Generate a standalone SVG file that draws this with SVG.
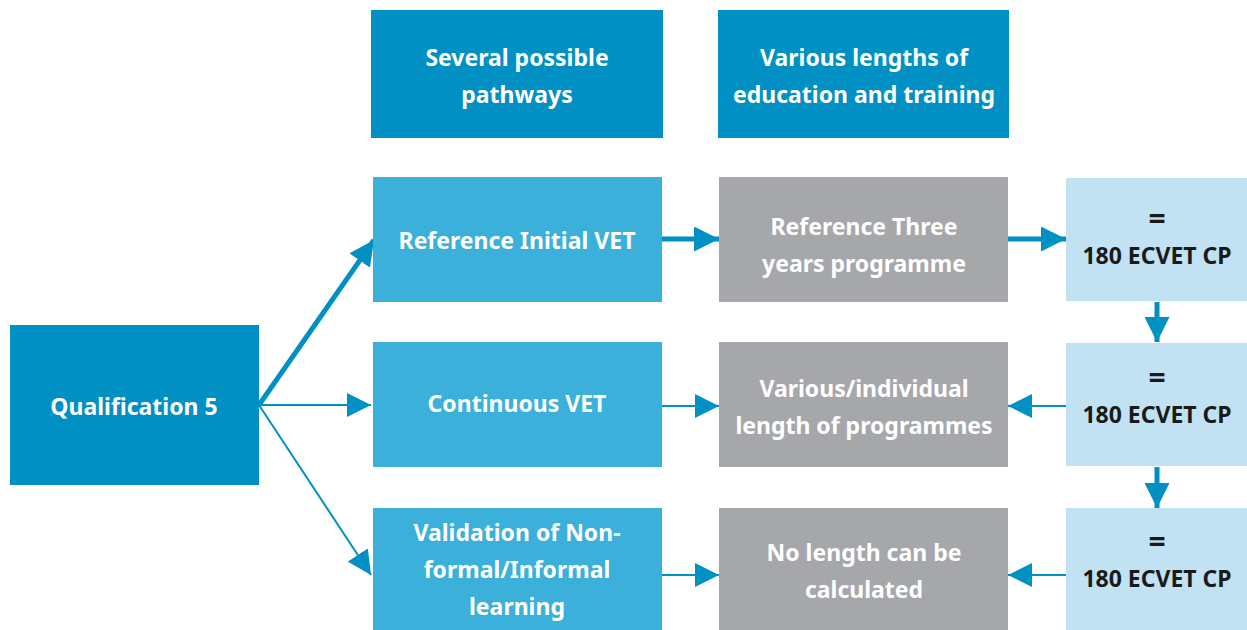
<svg xmlns="http://www.w3.org/2000/svg" width="1247" height="630" viewBox="0 0 1247 630">
<defs>
<style>
.t{font-family:"Noto Sans","Open Sans",sans-serif;font-weight:bold;font-size:23px;text-anchor:middle}
.eq{font-size:30px}
.w{fill:#ffffff}
.k{fill:#1a1a1a}
.dk{fill:#0090c4}
.md{fill:#3bb0da}
.gr{fill:#a6a7ab}
.lt{fill:#c0e2f2}
.c{stroke:#0090c4;fill:none}
</style>
<marker id="ahs" viewBox="0 0 10 10" refX="10" refY="5" markerWidth="5" markerHeight="5" orient="auto"><path d="M0,0 L10,5 L0,10 Z" fill="#0090c4"/></marker>
<marker id="aht" viewBox="0 0 10 10" refX="10" refY="5" markerWidth="12" markerHeight="12" orient="auto"><path d="M0,0 L10,5 L0,10 Z" fill="#0090c4"/></marker>
</defs>
<rect width="1247" height="630" fill="#ffffff"/>
<g id="connectors">
<line class="c" x1="259" y1="405" x2="374" y2="240" stroke-width="5" marker-end="url(#ahs)"/>
<line class="c" x1="259" y1="405" x2="371" y2="405" stroke-width="2" marker-end="url(#aht)"/>
<line class="c" x1="259" y1="405" x2="371" y2="575" stroke-width="2" marker-end="url(#aht)"/>
<line class="c" x1="662" y1="239" x2="719" y2="239" stroke-width="5" marker-end="url(#ahs)"/>
<line class="c" x1="1008" y1="239" x2="1066" y2="239" stroke-width="5" marker-end="url(#ahs)"/>
<line class="c" x1="1157" y1="302" x2="1157" y2="342" stroke-width="5" marker-end="url(#ahs)"/>
<line class="c" x1="1157" y1="467" x2="1157" y2="508" stroke-width="5" marker-end="url(#ahs)"/>
<line class="c" x1="662" y1="406" x2="719" y2="406" stroke-width="2" marker-end="url(#aht)"/>
<line class="c" x1="662" y1="575" x2="719" y2="575" stroke-width="2" marker-end="url(#aht)"/>
<line class="c" x1="1066" y1="406" x2="1008" y2="406" stroke-width="2" marker-end="url(#aht)"/>
<line class="c" x1="1066" y1="575" x2="1008" y2="575" stroke-width="2" marker-end="url(#aht)"/>
</g>
<g id="h1"><rect class="dk" x="371" y="10" width="292" height="128"/><text class="t w" x="517" y="66">Several possible</text><text class="t w" x="517" y="103">pathways</text></g>
<g id="h2"><rect class="dk" x="718" y="10" width="291" height="128"/><text class="t w" x="864" y="66">Various lengths of</text><text class="t w" x="864" y="103">education and training</text></g>
<g id="q5"><rect class="dk" x="10" y="325" width="249" height="160"/><text class="t w" x="134" y="415">Qualification 5</text></g>
<g id="p1"><rect class="md" x="373" y="177" width="289" height="125"/><text class="t w" x="517" y="249">Reference Initial VET</text></g>
<g id="p2"><rect class="md" x="373" y="342" width="289" height="125"/><text class="t w" x="517" y="412">Continuous VET</text></g>
<g id="p3"><rect class="md" x="373" y="508" width="289" height="122"/><text class="t w" x="517" y="541">Validation of Non-</text><text class="t w" x="517" y="578">formal/Informal</text><text class="t w" x="517" y="615">learning</text></g>
<g id="l1"><rect class="gr" x="719" y="177" width="289" height="125"/><text class="t w" x="864" y="235">Reference Three</text><text class="t w" x="864" y="272">years programme</text></g>
<g id="l2"><rect class="gr" x="719" y="342" width="289" height="125"/><text class="t w" x="864" y="397">Various/individual</text><text class="t w" x="864" y="434">length of programmes</text></g>
<g id="l3"><rect class="gr" x="719" y="508" width="289" height="122"/><text class="t w" x="864" y="561">No length can be</text><text class="t w" x="864" y="598">calculated</text></g>
<g id="e1"><rect class="lt" x="1066" y="178" width="181" height="123"/><text class="t k eq" x="1157" y="229">=</text><text class="t k" x="1157" y="264">180 ECVET CP</text></g>
<g id="e2"><rect class="lt" x="1066" y="343" width="181" height="123"/><text class="t k eq" x="1157" y="388">=</text><text class="t k" x="1157" y="423">180 ECVET CP</text></g>
<g id="e3"><rect class="lt" x="1066" y="508" width="181" height="122"/><text class="t k eq" x="1157" y="552">=</text><text class="t k" x="1157" y="587">180 ECVET CP</text></g>
</svg>
